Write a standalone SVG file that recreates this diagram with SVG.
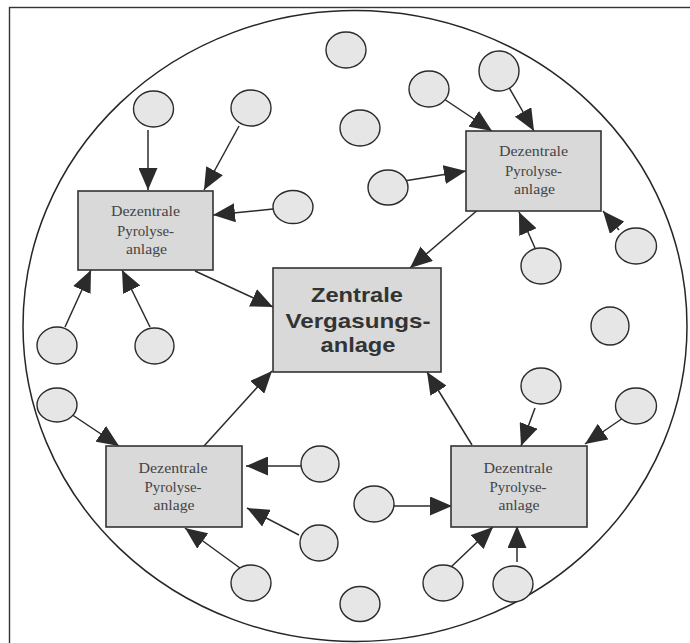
<svg xmlns="http://www.w3.org/2000/svg" width="690" height="643" viewBox="0 0 690 643">
  <style>
    .frame { fill: #ffffff; stroke: #333333; stroke-width: 1.4; }
    .region { fill: none; stroke: #262626; stroke-width: 1.5; }
    .box { fill: #d9d9d9; stroke: #333333; stroke-width: 1.6; }
    .src { fill: #e6e6e6; stroke: #2b2b2b; stroke-width: 1.4; }
    .edge { stroke: #2b2b2b; stroke-width: 1.5; fill: none; marker-end: url(#arrow); }
    .small { font-family: "Liberation Serif", "Times New Roman", serif; font-size: 14.5px; fill: #444444; text-anchor: middle; }
    .big { font-family: "Liberation Sans", Arial, sans-serif; font-size: 21px; font-weight: bold; fill: #333333; text-anchor: middle; }
  </style>
  <defs>
    <marker id="arrow" markerUnits="userSpaceOnUse" markerWidth="23" markerHeight="19" refX="22" refY="9.5" orient="auto">
      <path d="M0,0 L22,9.5 L0,19 z" fill="#2b2b2b"/>
    </marker>
  </defs>

  <!-- page frame and catchment boundary -->
  <rect class="frame" x="9.5" y="7.5" width="700" height="660"/>
  <ellipse class="region" cx="355" cy="326" rx="332" ry="315.5"/>

  <!-- connectors -->
  <g id="connectors">
    <line class="edge" x1="148" y1="130" x2="148" y2="190"/>
    <line class="edge" x1="239" y1="126" x2="204" y2="190"/>
    <line class="edge" x1="273" y1="209" x2="213" y2="215"/>
    <line class="edge" x1="195" y1="271" x2="273" y2="307"/>
    <line class="edge" x1="65" y1="327" x2="91" y2="270"/>
    <line class="edge" x1="150" y1="327" x2="122" y2="270"/>
    <line class="edge" x1="444" y1="99" x2="492" y2="131"/>
    <line class="edge" x1="507" y1="84" x2="534" y2="131"/>
    <line class="edge" x1="404" y1="181" x2="466" y2="171"/>
    <line class="edge" x1="480" y1="208" x2="410" y2="268"/>
    <line class="edge" x1="535" y1="248" x2="519" y2="212"/>
    <line class="edge" x1="619" y1="230" x2="603" y2="211"/>
    <line class="edge" x1="71" y1="414" x2="119" y2="446"/>
    <line class="edge" x1="204" y1="446" x2="272" y2="371"/>
    <line class="edge" x1="301" y1="466" x2="246" y2="466"/>
    <line class="edge" x1="299" y1="535" x2="247" y2="508"/>
    <line class="edge" x1="240" y1="568" x2="185" y2="528"/>
    <line class="edge" x1="472" y1="445" x2="427" y2="372"/>
    <line class="edge" x1="535" y1="408" x2="521" y2="446"/>
    <line class="edge" x1="623" y1="418" x2="585" y2="444"/>
    <line class="edge" x1="394" y1="506" x2="452" y2="506"/>
    <line class="edge" x1="451" y1="567" x2="493" y2="527"/>
    <line class="edge" x1="517" y1="562" x2="517" y2="526"/>
  </g>

  <!-- central gasification plant -->
  <g id="zentrale">
    <rect class="box" x="273" y="268" width="168" height="104"/>
    <text class="big" x="357" y="302" textLength="92" lengthAdjust="spacingAndGlyphs">Zentrale</text>
    <text class="big" x="358" y="328" textLength="145" lengthAdjust="spacingAndGlyphs">Vergasungs-</text>
    <text class="big" x="358" y="352" textLength="75" lengthAdjust="spacingAndGlyphs">anlage</text>
  </g>

  <!-- decentral pyrolysis plants -->
  <g id="pyro-nw">
    <rect class="box" x="78" y="191" width="135" height="79"/>
    <text class="small" x="145.5" y="215.5" textLength="69" lengthAdjust="spacingAndGlyphs">Dezentrale</text>
    <text class="small" x="145.5" y="235.5" textLength="57" lengthAdjust="spacingAndGlyphs">Pyrolyse-</text>
    <text class="small" x="146.5" y="253.5" textLength="41" lengthAdjust="spacingAndGlyphs">anlage</text>
  </g>
  <g id="pyro-ne">
    <rect class="box" x="466" y="131" width="135" height="80"/>
    <text class="small" x="533.5" y="156" textLength="69" lengthAdjust="spacingAndGlyphs">Dezentrale</text>
    <text class="small" x="533.5" y="176" textLength="57" lengthAdjust="spacingAndGlyphs">Pyrolyse-</text>
    <text class="small" x="534.5" y="194" textLength="41" lengthAdjust="spacingAndGlyphs">anlage</text>
  </g>
  <g id="pyro-sw">
    <rect class="box" x="106" y="446" width="136" height="81"/>
    <text class="small" x="173" y="472.5" textLength="69" lengthAdjust="spacingAndGlyphs">Dezentrale</text>
    <text class="small" x="173" y="491.5" textLength="57" lengthAdjust="spacingAndGlyphs">Pyrolyse-</text>
    <text class="small" x="174" y="510" textLength="41" lengthAdjust="spacingAndGlyphs">anlage</text>
  </g>
  <g id="pyro-se">
    <rect class="box" x="451" y="446" width="136" height="81"/>
    <text class="small" x="518" y="472.5" textLength="69" lengthAdjust="spacingAndGlyphs">Dezentrale</text>
    <text class="small" x="518" y="491.5" textLength="57" lengthAdjust="spacingAndGlyphs">Pyrolyse-</text>
    <text class="small" x="519" y="510" textLength="41" lengthAdjust="spacingAndGlyphs">anlage</text>
  </g>

  <!-- biomass sources -->
  <g id="sources">
    <ellipse id="src-01" class="src" cx="346" cy="50" rx="20" ry="18"/>
    <ellipse id="src-02" class="src" cx="153.5" cy="109" rx="20" ry="18"/>
    <ellipse id="src-03" class="src" cx="251" cy="108" rx="20" ry="18"/>
    <ellipse id="src-04" class="src" cx="293" cy="207" rx="20" ry="16.5"/>
    <ellipse id="src-05" class="src" cx="360" cy="128" rx="20" ry="18"/>
    <ellipse id="src-06" class="src" cx="429" cy="89" rx="20" ry="18"/>
    <ellipse id="src-07" class="src" cx="499" cy="71" rx="20" ry="20"/>
    <ellipse id="src-08" class="src" cx="388" cy="187.5" rx="20" ry="17.5"/>
    <ellipse id="src-09" class="src" cx="541" cy="266" rx="20" ry="18"/>
    <ellipse id="src-10" class="src" cx="636" cy="246" rx="20.5" ry="18"/>
    <ellipse id="src-11" class="src" cx="610" cy="326" rx="19" ry="19"/>
    <ellipse id="src-12" class="src" cx="57" cy="345.5" rx="20" ry="18.5"/>
    <ellipse id="src-13" class="src" cx="154.5" cy="346" rx="19.5" ry="18"/>
    <ellipse id="src-14" class="src" cx="57" cy="405" rx="20" ry="17"/>
    <ellipse id="src-15" class="src" cx="320" cy="464" rx="19" ry="18"/>
    <ellipse id="src-16" class="src" cx="319" cy="543" rx="19" ry="18"/>
    <ellipse id="src-17" class="src" cx="251" cy="583" rx="20" ry="18"/>
    <ellipse id="src-18" class="src" cx="360" cy="604" rx="20" ry="17.5"/>
    <ellipse id="src-19" class="src" cx="541" cy="386" rx="20" ry="18"/>
    <ellipse id="src-20" class="src" cx="636" cy="406" rx="20.5" ry="18"/>
    <ellipse id="src-21" class="src" cx="374" cy="504" rx="20" ry="18"/>
    <ellipse id="src-22" class="src" cx="443" cy="583" rx="20" ry="18"/>
    <ellipse id="src-23" class="src" cx="513" cy="584" rx="20" ry="18"/>
  </g>
</svg>
